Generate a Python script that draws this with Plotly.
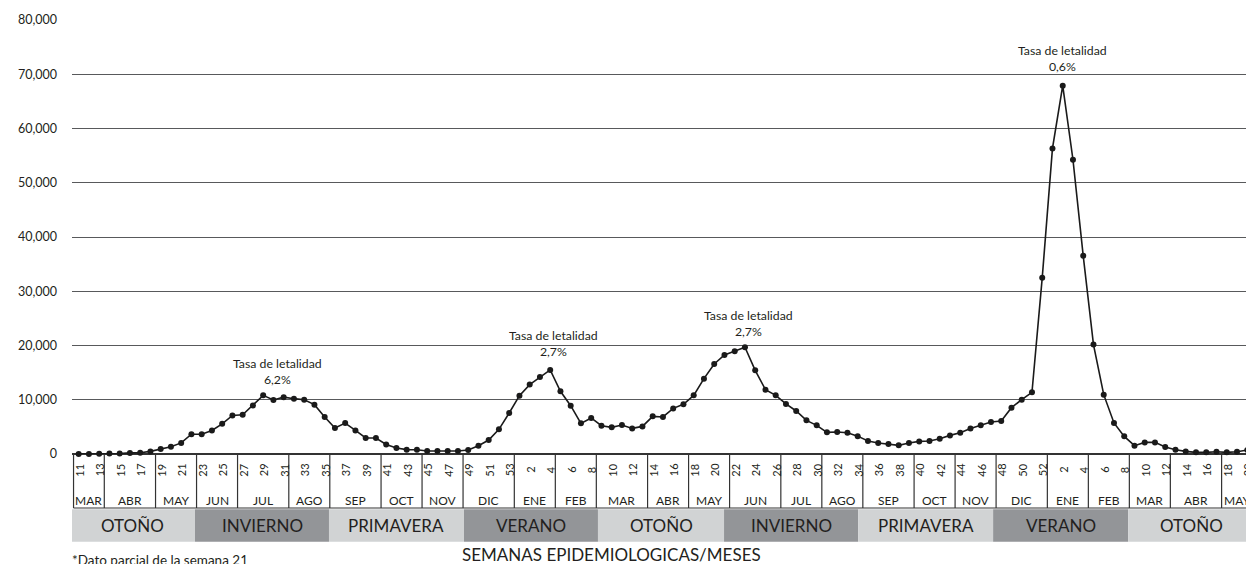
import plotly.graph_objects as go

# ---------------- data ----------------
weeks_2020 = list(range(11, 54))
weeks_2021 = list(range(1, 53))
weeks_2022 = list(range(1, 21))
weeks = weeks_2020 + weeks_2021 + weeks_2022
years = [2020] * len(weeks_2020) + [2021] * len(weeks_2021) + [2022] * len(weeks_2022)

cases = [
    20, 10, 30, 80, 90, 200, 240, 480, 900, 1350,
    2050, 3650, 3650, 4330, 5560, 7100, 7230, 8950, 10810, 9950,
    10480, 10200, 10000, 9100, 6830, 4800, 5700, 4350, 2950, 2950,
    1770, 1110, 800, 790, 560, 550, 550, 550, 740, 1530,
    2580, 4540, 7560, 10760, 12790, 14210, 15500, 11550, 8910, 5650,
    6640, 5220, 4910, 5350, 4720, 5090, 6940, 6830, 8410, 9150,
    10810, 13890, 16600, 18270, 18930, 19670, 15420, 11860, 10810, 9230,
    7930, 6200, 5280, 3990, 4060, 3930, 3290, 2400, 2030, 1850,
    1590, 2030, 2320, 2400, 2820, 3430, 3930, 4720, 5280, 5900,
    6090, 8540, 10020, 11370, 32470, 56330, 67900, 54240, 36530, 20170,
    10940, 5720, 3250, 1530, 2140, 2140, 1290, 790, 480, 300,
    300, 420, 300, 420, 740,
]

month_names = ["MAR", "ABR", "MAY", "JUN", "JUL", "AGO", "SEP", "OCT", "NOV", "DIC",
               "ENE", "FEB", "MAR", "ABR", "MAY", "JUN", "JUL", "AGO", "SEP", "OCT", "NOV", "DIC",
               "ENE", "FEB", "MAR", "ABR", "MAY"]
month_weeks = [3, 5, 4, 4, 5, 4, 5, 4, 4, 5,
               4, 4, 5, 4, 4, 5, 4, 4, 5, 4, 4, 5,
               4, 4, 4, 5, 3]

season_names = ["OTOÑO", "INVIERNO", "PRIMAVERA", "VERANO", "OTOÑO",
                "INVIERNO", "PRIMAVERA", "VERANO", "OTOÑO"]
season_edges = [-0.92, 11.35, 24.42, 37.59, 50.66, 62.96, 76.04, 89.21, 102.38, 114.7]
season_dark = [False, True, False, True, False, True, False, True, False]

lethality_week_idx = [18, 46, 65, 96]
lethality_rates = ["6,2%", "2,7%", "2,7%", "0,6%"]

y_ticks = [0, 10000, 20000, 30000, 40000, 50000, 60000, 70000, 80000]

# ---------------- layout helpers ----------------
# the page body adds an 8px margin; figure sized so the window shows it as the reference
OFF = 8
WIN_W, WIN_H = 1254, 564
W, H = WIN_W - OFF, WIN_H - OFF
PLOT_LEFT, PLOT_TOP, PLOT_BOTTOM, PLOT_RIGHT = 72, 20, 454, 1254  # window pixels
L = PLOT_LEFT - OFF
T = PLOT_TOP - OFF
B = WIN_H - PLOT_BOTTOM
R = 0
PLOT_H = PLOT_BOTTOM - PLOT_TOP
PLOT_W = PLOT_RIGHT - PLOT_LEFT


def py(p):
    """window pixel row -> paper y"""
    return (PLOT_BOTTOM - p) / PLOT_H


def px(p):
    """window pixel column -> paper x"""
    return (p - PLOT_LEFT) / PLOT_W


FONT = "Lato, 'Open Sans', sans-serif"
TXT = "#231f20"
x_idx = list(range(len(cases)))

fig = go.Figure()
fig.add_trace(go.Scatter(
    x=x_idx, y=cases, mode="lines+markers",
    line=dict(color="#1a1a1a", width=1.6),
    marker=dict(color="#1a1a1a", size=6),
    cliponaxis=False, hoverinfo="skip", showlegend=False,
))

shapes = []
annotations = []

# season bands
for i, name in enumerate(season_names):
    x0, x1 = season_edges[i], season_edges[i + 1]
    shapes.append(dict(type="rect", xref="x", yref="paper", x0=x0, x1=x1,
                       y0=py(541.7), y1=py(509.3), line=dict(width=0),
                       fillcolor="#939598" if season_dark[i] else "#d1d3d4", layer="below"))
    annotations.append(dict(xref="x", yref="paper", x=(x0 + x1) / 2, y=py(525.5),
                            text=name, showarrow=False, xanchor="center", yanchor="middle",
                            font=dict(family=FONT, size=17, color=TXT)))

# month table
edge = -0.5
shapes.append(dict(type="line", xref="x", yref="paper", x0=edge, x1=edge,
                   y0=0, y1=py(508), line=dict(color="#333333", width=1.2)))
for name, n in zip(month_names, month_weeks):
    start = edge
    edge = edge + n
    annotations.append(dict(xref="x", yref="paper", x=(start + edge) / 2, y=py(500.5),
                            text=name, showarrow=False, xanchor="center", yanchor="middle",
                            font=dict(family=FONT, size=12, color=TXT)))
    shapes.append(dict(type="line", xref="x", yref="paper", x0=edge, x1=edge,
                       y0=0, y1=py(508), line=dict(color="#333333", width=1.2)))
shapes.append(dict(type="line", xref="x", yref="paper", x0=-0.5, x1=114.7,
                   y0=py(508), y1=py(508), line=dict(color="#333333", width=1.2)))

# week labels
for i, (wk, yr) in enumerate(zip(weeks, years)):
    show = (wk % 2 == 1) if yr == 2020 else (wk % 2 == 0)
    if show:
        annotations.append(dict(xref="x", yref="paper", x=i, y=py(470), text=str(wk),
                                showarrow=False, textangle=-90, xanchor="center",
                                yanchor="middle", font=dict(family=FONT, size=11, color=TXT)))

# lethality labels
x_offsets = [1.4, 0.3, 0.3, 0.0]
y_shifts = [6, 9, 6, 10]
for idx, rate, dx, ys in zip(lethality_week_idx, lethality_rates, x_offsets, y_shifts):
    annotations.append(dict(xref="x", yref="y", x=idx + dx, y=cases[idx],
                            text="Tasa de letalidad<br>" + rate, showarrow=False,
                            xanchor="center", yanchor="bottom", yshift=ys,
                            font=dict(family=FONT, size=12.3, color=TXT)))

# axis title & footnote
annotations.append(dict(xref="paper", yref="paper", x=px(611), y=py(554),
                        text="SEMANAS EPIDEMIOLOGICAS/MESES", showarrow=False,
                        xanchor="center", yanchor="middle",
                        font=dict(family=FONT, size=17, color=TXT)))
annotations.append(dict(xref="paper", yref="paper", x=px(70), y=py(560),
                        text="*Dato parcial de la semana 21", showarrow=False,
                        xanchor="left", yanchor="middle",
                        font=dict(family=FONT, size=13.5, color=TXT)))

fig.update_layout(
    width=W, height=H,
    margin=dict(l=L, r=R, t=T, b=B, pad=0),
    paper_bgcolor="white", plot_bgcolor="white",
    font=dict(family=FONT, color=TXT),
    shapes=shapes, annotations=annotations,
    xaxis=dict(range=[-0.65, 114.66], showticklabels=False, showgrid=False,
               zeroline=False, showline=False, fixedrange=True),
    yaxis=dict(range=[0, 80000], tickvals=y_ticks, tickformat=",",
               showgrid=True, gridcolor="#58595b", gridwidth=1,
               zeroline=True, zerolinecolor="#333333", zerolinewidth=1.5,
               showline=False, ticks="", ticklabelstandoff=14,
               tickfont=dict(family=FONT, size=12.5, color=TXT), fixedrange=True),
)

fig.write_html("out.html")
